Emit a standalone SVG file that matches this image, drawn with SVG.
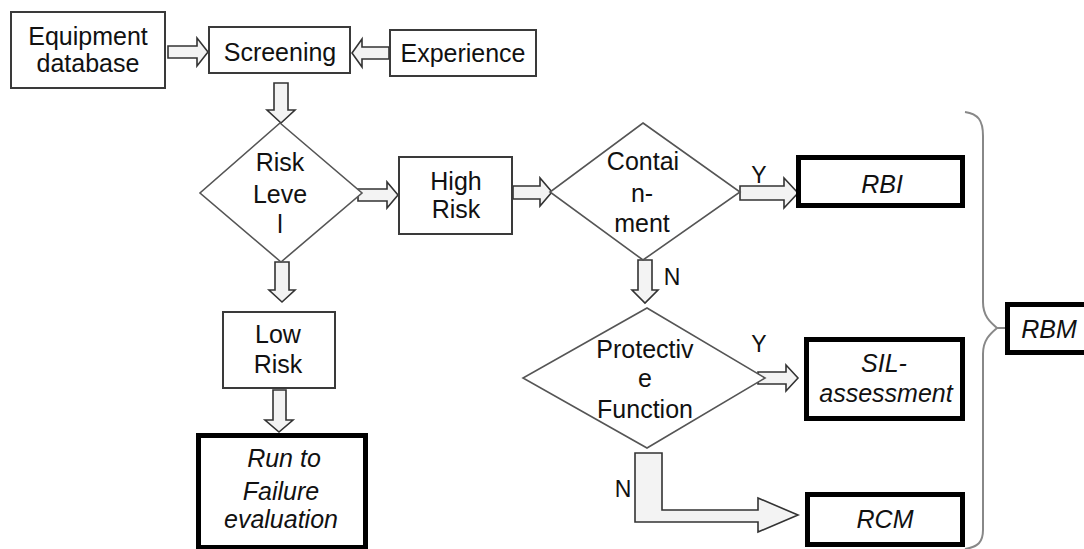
<svg xmlns="http://www.w3.org/2000/svg" width="1084" height="549" viewBox="0 0 1084 549">
<style>
.bg{fill:#fff}
.thin{fill:#fff;stroke:#3a3a3a;stroke-width:2}
.thick{fill:#fff;stroke:#000;stroke-width:5}
.dia{fill:#fff;stroke:#555;stroke-width:1.6}
.arr{fill:#f3f3f3;stroke:#333;stroke-width:1.6;stroke-linejoin:miter}
.brace{fill:none;stroke:#888;stroke-width:2}
text{font-family:"Liberation Sans",Arial,sans-serif;font-size:25px;fill:#111;text-anchor:middle}
.it{font-style:italic}
.lbl{font-size:23px}
</style>
<rect class="bg" x="0" y="0" width="1084" height="549"/>
<g id="connectors">
  <polygon class="arr" points="168,46 197,46 197,38 208,52 197,66 197,58 168,58"/>
  <polygon class="arr" points="389,47 362,47 362,39 352,53 362,67 362,59 389,59"/>
  <polygon class="arr" points="274,83 288,83 288,110 295,110 281,123 267,110 274,110"/>
  <polygon class="arr" points="358,189 387,189 387,182 398,195 387,208 387,201 358,201"/>
  <polygon class="arr" points="513,186 540,186 540,178 552,192 540,206 540,199 513,199"/>
  <polygon class="arr" points="740,186 784,186 784,178 798,193 784,208 784,200 740,200"/>
  <polygon class="arr" points="638,260 652,260 652,290 658,290 645,303 632,290 638,290"/>
  <polygon class="arr" points="275,262 289,262 289,290 295,290 282,302 269,290 275,290"/>
  <polygon class="arr" points="273,390 286,390 286,420 293,420 279,432 265,420 273,420"/>
  <polygon class="arr" points="758,372 786,372 786,365 798,378 786,391 786,384 758,384"/>
  <polygon class="arr" points="635,453 662,453 662,510 758,510 758,498 798,515 758,532 758,522 635,522"/>
  <path class="brace" d="M965,112 C978,114 983,120 983,136 L983,302 C983,316 990,322 997,328 C990,334 983,340 983,354 L983,530 C983,542 978,547 965,549"/>
  <line class="brace" x1="997" y1="328" x2="1005" y2="328"/>
  <text class="lbl" x="759" y="183">Y</text>
  <text class="lbl" x="672" y="285">N</text>
  <text class="lbl" x="759" y="352">Y</text>
  <text class="lbl" x="623" y="497">N</text>
</g>
<g id="equipment">
  <rect class="thin" x="11" y="12" width="154" height="76"/>
  <text x="88" y="45">Equipment</text>
  <text x="88" y="72">database</text>
</g>
<g id="screening">
  <rect class="thin" x="209" y="27" width="141" height="46"/>
  <text x="280" y="61">Screening</text>
</g>
<g id="experience">
  <rect class="thin" x="390" y="30" width="146" height="46"/>
  <text x="463" y="62">Experience</text>
</g>
<g id="risk-level">
  <polygon class="dia" points="280,123 362,193 281,262 200,193"/>
  <text x="280" y="171">Risk</text>
  <text x="280" y="203">Leve</text>
  <text x="280" y="233">l</text>
</g>
<g id="high-risk">
  <rect class="thin" x="399" y="157" width="113" height="77"/>
  <text x="456" y="190">High</text>
  <text x="456" y="218">Risk</text>
</g>
<g id="containment">
  <polygon class="dia" points="643,123 740,192 643,260 550,192"/>
  <text x="643" y="170">Contai</text>
  <text x="642" y="202">n-</text>
  <text x="642" y="232">ment</text>
</g>
<g id="rbi">
  <rect class="thick" x="798.5" y="157.5" width="164" height="48"/>
  <text class="it" x="882" y="193">RBI</text>
</g>
<g id="protective">
  <polygon class="dia" points="647,308 765,378 647,448 523,378"/>
  <text x="645" y="358">Protectiv</text>
  <text x="645" y="387">e</text>
  <text x="645" y="418">Function</text>
</g>
<g id="sil">
  <rect class="thick" x="806.5" y="339.5" width="156" height="79"/>
  <text class="it" x="884" y="372">SIL-</text>
  <text class="it" x="886" y="402">assessment</text>
</g>
<g id="rcm">
  <rect class="thick" x="807.5" y="494.5" width="155" height="50"/>
  <text class="it" x="885" y="528">RCM</text>
</g>
<g id="low-risk">
  <rect class="thin" x="223" y="312" width="112" height="76"/>
  <text x="278" y="343">Low</text>
  <text x="278" y="373">Risk</text>
</g>
<g id="run-to-failure">
  <rect class="thick" x="198.5" y="435.5" width="167" height="112"/>
  <text class="it" x="284" y="467">Run to</text>
  <text class="it" x="281" y="500">Failure</text>
  <text class="it" x="281" y="528">evaluation</text>
</g>
<g id="rbm">
  <rect class="thick" x="1007.5" y="304.5" width="90" height="48"/>
  <text class="it" x="1049" y="338">RBM</text>
</g>
</svg>
